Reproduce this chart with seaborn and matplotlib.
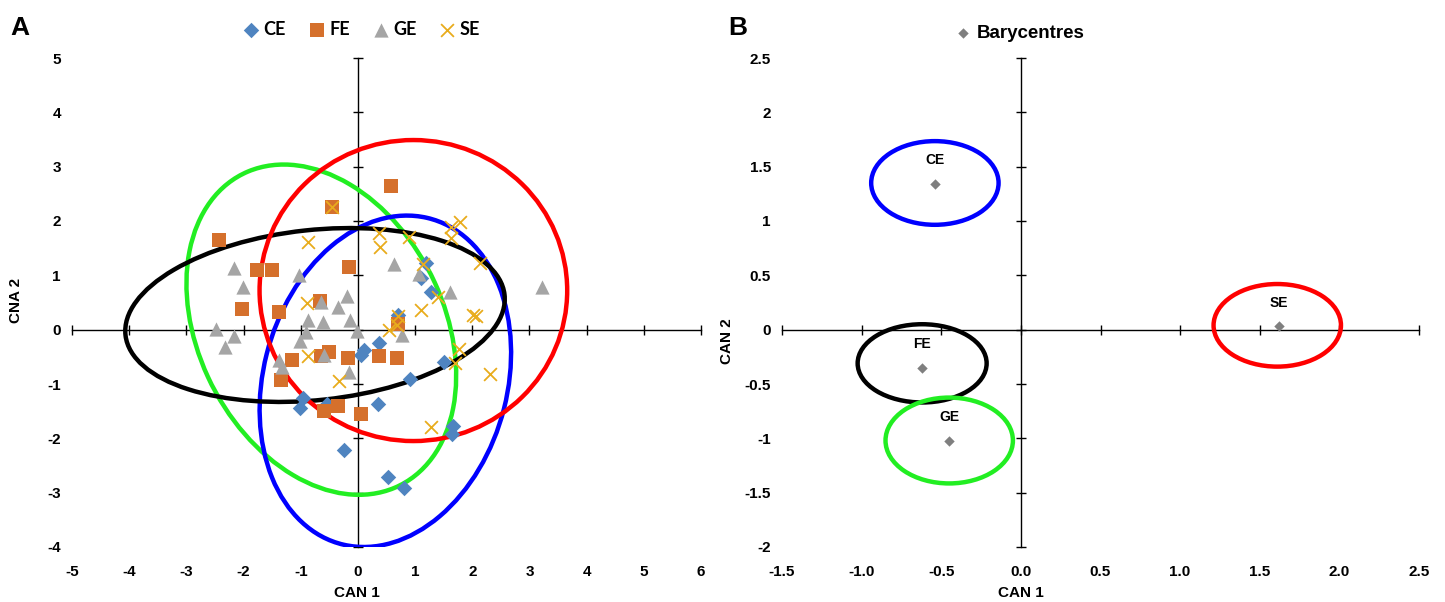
import numpy as np
import pandas as pd
import matplotlib.pyplot as plt
import seaborn as sns
from matplotlib.patches import Ellipse
from matplotlib.ticker import FormatStrFormatter, FuncFormatter

# data ---------------------------------------------
groups = ["CE", "FE", "GE", "SE"]

ce_x = [1.19, 1.10, 1.28, 0.70, 0.37, 0.10, 0.05, 1.50, 0.91, -0.96, -1.01, -0.54, 0.35, -0.24, 0.52, 0.80, 1.66, 1.64]
ce_y = [1.23, 0.95, 0.70, 0.27, -0.24, -0.37, -0.46, -0.59, -0.90, -1.25, -1.45, -1.36, -1.36, -2.22, -2.71, -2.91, -1.78, -1.92]

fe_x = [-2.43, -1.77, -1.50, -0.45, 0.58, -0.16, -2.03, -1.38, -0.66, -1.15, -1.35, -0.51, -0.65, -0.17, 0.37, 0.68, -0.35, -0.59, 0.05, 0.70]
fe_y = [1.65, 1.10, 1.10, 2.25, 2.64, 1.15, 0.38, 0.33, 0.53, -0.55, -0.93, -0.42, -0.49, -0.53, -0.49, -0.53, -1.41, -1.50, -1.56, 0.11]

ge_x = [-2.17, -2.01, -1.03, -2.48, -2.17, -2.33, -0.65, -0.19, -0.35, -0.87, -0.61, -0.14, -0.02, -0.91, -1.01, -1.38, -1.33, -0.59, -0.16, 0.63, 1.07, 1.61, 3.22, 0.77]
ge_y = [1.14, 0.79, 1.01, 0.02, -0.11, -0.31, 0.51, 0.62, 0.42, 0.18, 0.15, 0.18, -0.02, -0.04, -0.20, -0.55, -0.68, -0.46, -0.77, 1.21, 1.03, 0.70, 0.79, -0.09]

se_x = [-0.87, -0.45, 0.37, 0.38, 0.89, 1.63, 1.78, 1.63, 2.13, 1.14, 1.40, 1.10, 2.01, 2.06, 0.70, 0.68, 0.54, 1.77, 1.70, 2.31, -0.89, -0.87, -0.33, 1.28]
se_y = [1.61, 2.25, 1.78, 1.52, 1.70, 1.89, 1.98, 1.68, 1.23, 1.21, 0.60, 0.37, 0.27, 0.26, 0.26, 0.09, 0.00, -0.35, -0.62, -0.82, 0.49, -0.49, -0.95, -1.79]

# confidence ellipses of panel A (centre x, centre y, width, height, angle)
ellA_x = [-0.75, -0.64, 0.48, 0.97]
ellA_y = [0.27, 0.00, -0.95, 0.72]
ellA_w = [6.67, 6.36, 6.19, 5.38]
ellA_h = [3.13, 4.33, 4.27, 5.54]
ellA_ang = [6.5, -66.3, 76.4, 0.0]
ellA_col = ["black", "#22EE22", "#0000FF", "#FF0000"]
ellA_order = [1, 2, 0, 3]

# barycentres (panel B)
bary_lab = ["CE", "FE", "GE", "SE"]
bary_x = [-0.54, -0.62, -0.45, 1.62]
bary_y = [1.34, -0.35, -1.02, 0.03]
ellB_x = [-0.54, -0.62, -0.45, 1.61]
ellB_y = [1.35, -0.31, -1.02, 0.04]
ellB_w = [0.80, 0.81, 0.80, 0.80]
ellB_h = [0.77, 0.72, 0.79, 0.76]
ellB_col = ["#0000FF", "black", "#22EE22", "#FF0000"]

xticksA = list(range(-5, 7))
yticksA = list(range(-4, 6))
xticksB = [-1.5, -1.0, -0.5, 0.0, 0.5, 1.0, 1.5, 2.0, 2.5]
yticksB = [-2, -1.5, -1, -0.5, 0, 0.5, 1, 1.5, 2, 2.5]

# style --------------------------------------------
sns.set_theme(style="white")
plt.rcParams['font.family'] = ['Liberation Sans', 'DejaVu Sans']
plt.rcParams['font.weight'] = 'bold'
plt.rcParams['axes.unicode_minus'] = False
for k in ('text.color', 'axes.labelcolor', 'xtick.color', 'ytick.color'):
    plt.rcParams[k] = 'black'

pal = {"CE": "#4F84C0", "FE": "#D5702C", "GE": "#A5A5A5", "SE": "#E8AC1C"}
mk = {"CE": "D", "FE": "s", "GE": "^", "SE": "x"}
msz = {"CE": 62, "FE": 115, "GE": 105, "SE": 85}

df = pd.concat([
    pd.DataFrame({"x": ce_x, "y": ce_y, "g": "CE"}),
    pd.DataFrame({"x": fe_x, "y": fe_y, "g": "FE"}),
    pd.DataFrame({"x": ge_x, "y": ge_y, "g": "GE"}),
    pd.DataFrame({"x": se_x, "y": se_y, "g": "SE"}),
])


def cross_axes(fig, ax):
    # Excel-like axes crossing at zero, labels kept at the edges by ax
    ov = fig.add_axes(ax.get_position(), sharex=ax, sharey=ax)
    ov.patch.set_visible(False)
    for s in ("top", "right"):
        ov.spines[s].set_visible(False)
    ov.spines["left"].set_position(("data", 0))
    ov.spines["bottom"].set_position(("data", 0))
    for s in ("left", "bottom"):
        ov.spines[s].set_color("black")
        ov.spines[s].set_linewidth(1.0)
    ov.tick_params(direction="inout", length=7, width=1, color="black",
                   labelleft=False, labelbottom=False, left=True, bottom=True)
    ov.set_zorder(1)
    ax.set_zorder(2)
    ax.patch.set_visible(False)
    for s in ax.spines.values():
        s.set_visible(False)
    ax.tick_params(length=0, labelsize=11)
    ax.tick_params(axis="y", pad=8)
    ax.tick_params(axis="x", pad=13)
    return ov


fig = plt.figure(figsize=(14.45, 6.02), dpi=100)
fig.patch.set_facecolor("white")
axA = fig.add_axes([72/1445, 55/602, 629/1445, 489/602])
axB = fig.add_axes([782/1445, 55/602, 637/1445, 489/602])

# panel A ------------------------------------------
for i in ellA_order:
    axA.add_patch(Ellipse((ellA_x[i], ellA_y[i]), ellA_w[i], ellA_h[i], angle=ellA_ang[i],
                          fill=False, edgecolor=ellA_col[i], linewidth=3.2, zorder=2))

for g in groups:
    sub = df[df["g"] == g]
    if mk[g] == "x":
        sns.scatterplot(data=sub, x="x", y="y", marker="x", s=msz[g], color=pal[g],
                        linewidth=1.3, ax=axA, label=g, zorder=3)
    else:
        sns.scatterplot(data=sub, x="x", y="y", marker=mk[g], s=msz[g], color=pal[g],
                        linewidth=0, ax=axA, label=g, zorder=3)

axA.set_xlim(-5, 6)
axA.set_ylim(-4, 5)
axA.set_xticks(xticksA)
axA.set_yticks(yticksA)
cross_axes(fig, axA)
axA.set_xlabel("CAN 1", fontsize=11, fontweight="bold")
axA.set_ylabel("CNA 2", fontsize=11, fontweight="bold")
axA.xaxis.set_label_coords(0.453, -0.08)
axA.yaxis.set_label_coords(-0.078, 0.504)
axA.legend(loc="center", bbox_to_anchor=(0.461, 1.059), ncol=4, frameon=False,
           handlelength=0.8, handletextpad=0.3, columnspacing=1.3, borderaxespad=0,
           prop={"family": ["Lato", "DejaVu Sans"], "weight": "bold", "size": 13})

# panel B ------------------------------------------
for i in range(len(bary_lab)):
    axB.add_patch(Ellipse((ellB_x[i], ellB_y[i]), ellB_w[i], ellB_h[i],
                          fill=False, edgecolor=ellB_col[i], linewidth=3.2, zorder=2))

sns.scatterplot(x=bary_x, y=bary_y, marker="D", s=28, color="#7F7F7F", linewidth=0,
                ax=axB, label="Barycentres", zorder=3)
for lab, bx, by in zip(bary_lab, bary_x, bary_y):
    axB.annotate(lab, (bx, by), xytext=(0, 12), textcoords="offset points",
                 ha="center", va="bottom", fontsize=10, fontweight="bold")

axB.set_xlim(-1.5, 2.5)
axB.set_ylim(-2, 2.5)
axB.set_xticks(xticksB)
axB.set_yticks(yticksB)
axB.xaxis.set_major_formatter(FormatStrFormatter("%.1f"))
axB.yaxis.set_major_formatter(FuncFormatter(lambda v, p: f"{v:g}"))
cross_axes(fig, axB)
axB.set_xlabel("CAN 1", fontsize=11, fontweight="bold")
axB.set_ylabel("CAN 2", fontsize=11, fontweight="bold")
axB.xaxis.set_label_coords(0.375, -0.08)
axB.yaxis.set_label_coords(-0.075, 0.422)
axB.legend(loc="center", bbox_to_anchor=(0.374, 1.051), frameon=False,
           handlelength=0.8, handletextpad=0.3, borderaxespad=0,
           prop={"weight": "bold", "size": 13.5})

fig.text(0.0138, 0.953, "A", fontsize=19, fontweight="bold", ha="center", va="center")
fig.text(0.5105, 0.953, "B", fontsize=19, fontweight="bold", ha="center", va="center")

plt.savefig("out.png", dpi=100, facecolor="white")
